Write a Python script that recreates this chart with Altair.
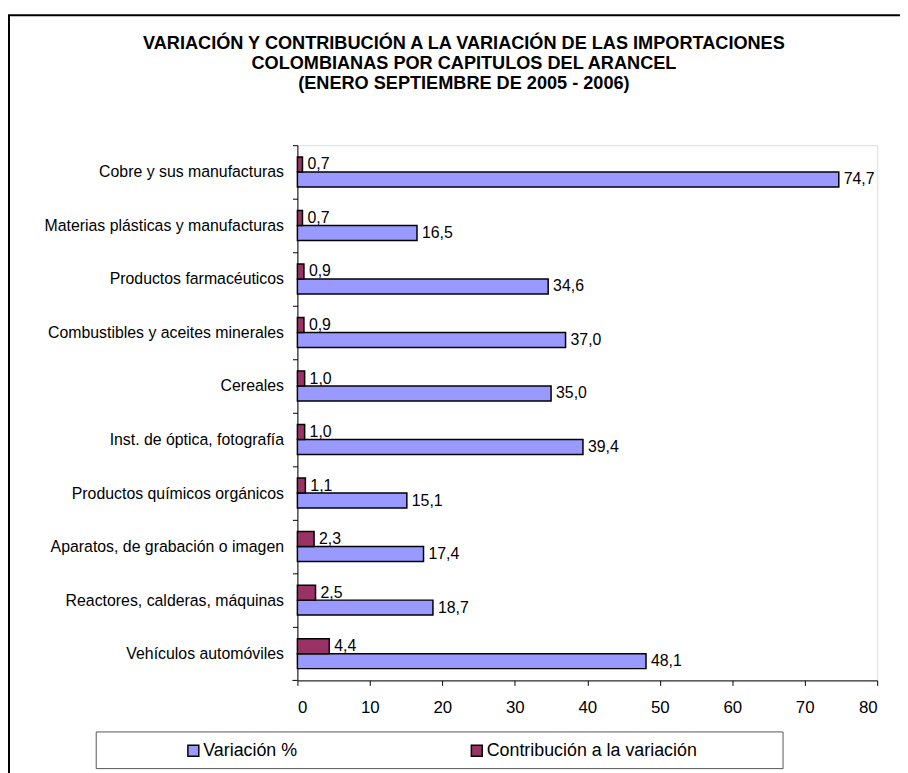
import altair as alt
import pandas as pd

categories = [
    "Cobre y sus manufacturas",
    "Materias plásticas y manufacturas",
    "Productos farmacéuticos",
    "Combustibles y aceites minerales",
    "Cereales",
    "Inst. de óptica, fotografía",
    "Productos químicos orgánicos",
    "Aparatos, de grabación o imagen",
    "Reactores, calderas, máquinas",
    "Vehículos automóviles",
]
variacion = [74.7, 16.5, 34.6, 37.0, 35.0, 39.4, 15.1, 17.4, 18.7, 48.1]
contribucion = [0.7, 0.7, 0.9, 0.9, 1.0, 1.0, 1.1, 2.3, 2.5, 4.4]
series = ["Variación %", "Contribución a la variación"]
series_colors = ["#9999FF", "#993366"]
x_ticks = [0, 10, 20, 30, 40, 50, 60, 70, 80]
title_lines = [
    "VARIACIÓN Y CONTRIBUCIÓN A LA VARIACIÓN DE LAS IMPORTACIONES",
    "COLOMBIANAS POR CAPITULOS DEL ARANCEL",
    "(ENERO SEPTIEMBRE DE 2005 - 2006)",
]

rows = []
for c, v, k in zip(categories, variacion, contribucion):
    rows.append({"cat": c, "serie": series[0], "valor": v})
    rows.append({"cat": c, "serie": series[1], "valor": k})
df = pd.DataFrame(rows)

FONT = "Liberation Sans"
W, H = 585, 540

y_enc = alt.Y(
    "cat:N",
    sort=categories,
    scale=alt.Scale(paddingInner=0.44, paddingOuter=0.22),
    axis=alt.Axis(
        title=None,
        labelFont=FONT,
        labelFontSize=16,
        labelColor="black",
        labelPadding=9,
        tickColor="black",
        tickSize=5,
        tickOffset=-27,
        labelOffset=27,
        domainColor="black",
        labelLimit=400,
    ),
)
yoff_enc = alt.YOffset("serie:N", sort=[series[1], series[0]], scale=alt.Scale(paddingInner=0, paddingOuter=0))
x_enc = alt.X(
    "valor:Q",
    scale=alt.Scale(domain=[0, 80], nice=False),
    axis=alt.Axis(
        title=None,
        values=x_ticks,
        labelFont=FONT,
        labelFontSize=17,
        labelColor="black",
        labelPadding=14,
        tickColor="black",
        tickSize=5,
        domainColor="black",
        grid=False,
    ),
)

bars = alt.Chart(df).mark_bar(stroke="black", strokeWidth=1.5).encode(
    y=y_enc,
    yOffset=yoff_enc,
    x=x_enc,
    color=alt.Color(
        "serie:N",
        scale=alt.Scale(domain=series, range=series_colors),
        legend=alt.Legend(
            title=None,
            orient="none",
            legendX=-114,
            legendY=602,
            direction="horizontal",
            columns=2,
            columnPadding=172,
            symbolType="square",
            symbolSize=121,
            symbolStrokeColor="black",
            symbolStrokeWidth=1.5,
            symbolOpacity=1,
            symbolOffset=0,
            labelOffset=1,
            labelFont=FONT,
            labelFontSize=18,
            labelColor="black",
            padding=0,
            labelLimit=400,
        ),
    ),
)

texts = alt.Chart(df).transform_calculate(
    lbl="replace(format(datum.valor, '.1f'), '.', ',')"
).mark_text(align="left", baseline="middle", dx=5, font=FONT, fontSize=16, color="black").encode(
    y=alt.Y("cat:N", sort=categories),
    yOffset=alt.YOffset("serie:N", sort=[series[1], series[0]]),
    x="valor:Q",
    text="lbl:N",
)

title_df = pd.DataFrame({"t": ["\n".join(title_lines)]})
title = alt.Chart(title_df).mark_text(
    font=FONT, fontSize=18.3, fontWeight="bold", color="black", align="center",
    baseline="top", lineBreak="\n", lineHeight=20,
).encode(
    x=alt.value(168),
    y=alt.value(-111),
    text="t:N",
)

one = pd.DataFrame({"k": [0]})
border = alt.Chart(one).mark_rect(fill=None, stroke="black", strokeWidth=2).encode(
    x=alt.value(-291), x2=alt.value(700), y=alt.value(-131), y2=alt.value(700)
)
legend_box = alt.Chart(one).mark_rect(fill=None, stroke="#555555", strokeWidth=1).encode(
    x=alt.value(-203), x2=alt.value(490), y=alt.value(592), y2=alt.value(629)
)
bottom_tick = alt.Chart(one).mark_rule(color="black").encode(
    x=alt.value(-5), x2=alt.value(0), y=alt.value(H)
)

chart = alt.layer(bars, texts, title, border, legend_box, bottom_tick).properties(
    width=W,
    height=H,
    autosize="none",
    padding={"left": 292, "top": 135, "right": 23, "bottom": 90},
).configure_view(stroke="#888888", strokeWidth=1.5).configure(background="white")

chart.save("out.html", embed_options={"renderer": "svg", "actions": False})
